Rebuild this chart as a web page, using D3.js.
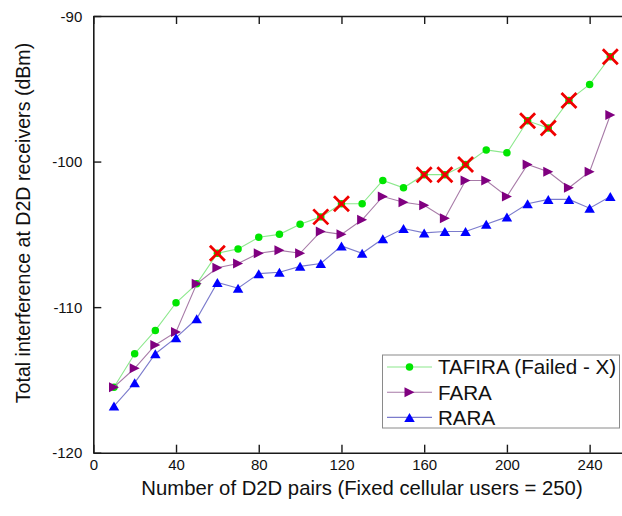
<!DOCTYPE html>
<html>
<head>
<meta charset="utf-8">
<script src="https://cdn.jsdelivr.net/npm/d3@7"></script>
<style>
  html, body { margin: 0; padding: 0; background: #fff; }
  svg { display: block; font-family: "Liberation Sans", Arial, sans-serif; }
</style>
</head>
<body>
<svg id="chart" width="622" height="516"></svg>
<script>
// Number of D2D pairs
const pairs = [10, 20, 30, 40, 50, 60, 70, 80, 90, 100, 110, 120, 130,
               140, 150, 160, 170, 180, 190, 200, 210, 220, 230, 240, 250];

// Total interference (dBm) per scheme
const tafira = [-115.5, -113.2, -111.6, -109.7, -108.4, -106.3, -106.0, -105.2, -105.0,
                -104.3, -103.8, -102.9, -102.9, -101.3, -101.8, -100.9, -100.9, -100.2,
                -99.2, -99.4, -97.2, -97.7, -95.8, -94.7, -92.8];
const fara   = [-115.5, -114.2, -112.6, -111.7, -108.4, -107.3, -107.0, -106.3, -106.1,
                -106.3, -104.8, -105.0, -104.0, -102.4, -102.8, -103.0, -103.9, -101.3,
                -101.3, -102.4, -100.2, -100.7, -101.8, -100.7, -96.8];
const rara   = [-116.8, -115.2, -113.2, -112.1, -110.8, -108.3, -108.7, -107.7, -107.6,
                -107.2, -107.0, -105.8, -106.3, -105.3, -104.6, -104.9, -104.8, -104.8,
                -104.3, -103.8, -102.9, -102.6, -102.6, -103.2, -102.4];

// TAFIRA runs that failed (marked with a red cross)
const failedPairs = [60, 110, 120, 160, 170, 180, 210, 220, 230, 250];

const xTicks = [0, 40, 80, 120, 160, 200, 240];
const yTicks = [-120, -110, -100, -90];

const seriesNames = ["TAFIRA (Failed - X)", "FARA", "RARA"];

const svg = d3.select("#chart");
const x = d3.scaleLinear().domain([0, 260]).range([93.3, 631]);
const y = d3.scaleLinear().domain([-120, -90]).range([452.7, 16]);

const axisColor = "#1a1a1a";
const textColor = "#111";
const fontFam = "Liberation Sans, Arial, sans-serif";
const plainNum = d => String(d);   // ASCII hyphen for negatives

// frame + axes
const g = svg.append("g");
const axBottom = g.append("g").attr("transform", `translate(0,${y(-120)})`)
  .call(d3.axisBottom(x).tickValues(xTicks).tickSizeInner(-8).tickSizeOuter(0).tickPadding(7)
        .tickFormat(plainNum));
const axTop = g.append("g").attr("transform", `translate(0,${y(-90)})`)
  .call(d3.axisTop(x).tickValues(xTicks).tickSizeInner(-8).tickSizeOuter(0).tickFormat(""));
const axLeft = g.append("g").attr("transform", `translate(${x(0)},0)`)
  .call(d3.axisLeft(y).tickValues(yTicks).tickSizeInner(-8).tickSizeOuter(0).tickPadding(11)
        .tickFormat(plainNum));
[axBottom, axTop, axLeft].forEach(a => {
  a.attr("font-family", fontFam);
  a.select(".domain").attr("stroke", axisColor).attr("stroke-width", 1.6);
  a.selectAll(".tick line").attr("stroke", axisColor).attr("stroke-width", 1.4);
  a.selectAll(".tick text").attr("fill", textColor).attr("font-size", 15);
});
axLeft.selectAll(".tick text").attr("dy", "0.35em");

// axis titles
svg.append("text")
  .attr("x", 362).attr("y", 494.5)
  .attr("text-anchor", "middle")
  .attr("font-size", 20.3).attr("fill", textColor)
  .text("Number of D2D pairs (Fixed cellular users = 250)");
svg.append("text")
  .attr("transform", "translate(30,223) rotate(-90)")
  .attr("text-anchor", "middle")
  .attr("font-size", 19.6).attr("fill", textColor)
  .text("Total interference at D2D receivers (dBm)");

// marker shapes
const circleSym = d3.symbol().type(d3.symbolCircle).size(44);
function triRight() { const w = 10, h = 10; return `M${-w/2},${-h/2}L${w/2},0L${-w/2},${h/2}Z`; }
function triUp() { const w = 10.5, h = 9; return `M0,${-h/2}L${w/2},${h/2}L${-w/2},${h/2}Z`; }

const series = [
  { name: seriesNames[0], values: tafira, line: "#8ce88c", fill: "#00e600", shape: () => circleSym() },
  { name: seriesNames[1], values: fara,   line: "#a77aa7", fill: "#800080", shape: triRight },
  { name: seriesNames[2], values: rara,   line: "#7b7bcc", fill: "#0000ff", shape: triUp }
];

const line = d3.line().x(d => x(d[0])).y(d => y(d[1]));
const plot = svg.append("g");
series.forEach(s => {
  const pts = pairs.map((p, i) => [p, s.values[i]]);
  plot.append("path").datum(pts)
    .attr("d", line).attr("fill", "none")
    .attr("stroke", s.line).attr("stroke-width", 1.1);
  plot.selectAll(null).data(pts).enter().append("path")
    .attr("transform", d => `translate(${x(d[0])},${y(d[1])})`)
    .attr("d", s.shape())
    .attr("fill", s.fill);
});

// red crosses on failed TAFIRA runs
const failed = failedPairs.map(p => [p, tafira[pairs.indexOf(p)]]);
const cr = 7.5;
plot.selectAll(null).data(failed).enter().append("path")
  .attr("transform", d => `translate(${x(d[0])},${y(d[1])})`)
  .attr("d", `M${-cr},${-cr}L${cr},${cr}M${cr},${-cr}L${-cr},${cr}`)
  .attr("stroke", "#f00000").attr("stroke-width", 2.8).attr("fill", "none");

// legend
const lg = svg.append("g");
lg.append("rect").attr("x", 382.5).attr("y", 355).attr("width", 237).attr("height", 73)
  .attr("fill", "#fff").attr("stroke", "#8a8a8a").attr("stroke-width", 1);
series.forEach((s, i) => {
  const cy = 367 + i * 25.2;
  lg.append("line").attr("x1", 387).attr("x2", 432).attr("y1", cy).attr("y2", cy)
    .attr("stroke", s.line).attr("stroke-width", 1.1);
  lg.append("path").attr("transform", `translate(409.5,${cy})`).attr("d", s.shape()).attr("fill", s.fill);
  lg.append("text").attr("x", 438).attr("y", cy).attr("dy", "0.36em")
    .attr("font-size", 20.6).attr("fill", textColor).text(s.name);
});
</script>
</body>
</html>
